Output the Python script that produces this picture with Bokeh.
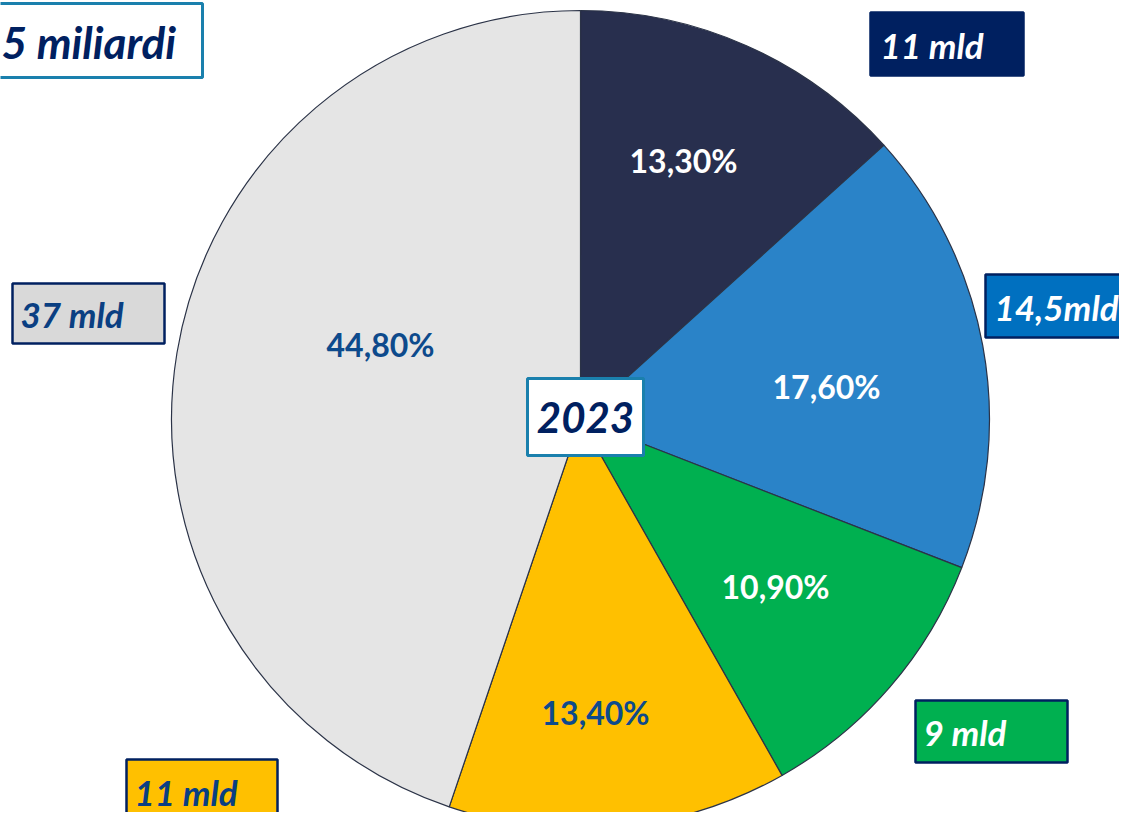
import math
from bokeh.plotting import figure
from bokeh.models import Range1d, ColumnDataSource
from bokeh.core.properties import value
from bokeh.embed import file_html
from bokeh.resources import INLINE

# ---- data ----
segments = ["A", "B", "C", "D", "E"]
shares = [13.3, 17.6, 10.9, 13.4, 44.8]            # percent, clockwise from top
share_labels = ["13,30%", "17,60%", "10,90%", "13,40%", "44,80%"]
amount_labels = ["11 mld", "14,5mld", "9 mld", "11 mld", "37 mld"]
total_label = "5 miliardi"
year_label = "2023"

# ---- styles / layout (image-pixel coordinates, y measured downward) ----
slice_colors = ["#282f4e", "#2a83c8", "#00b050", "#ffc000", "#e5e5e5"]
label_colors = ["white", "white", "white", "#0d4a8c", "#0d4a8c"]
label_pos = [(683, 160), (826, 386), (775, 586), (595, 712), (380, 344)]

box_fill = ["#002060", "#0070c0", "#00b050", "#ffc000", "#d9d9d9"]
box_line = ["#002060", "#002060", "#002060", "#002060", "#002060"]
box_text_color = ["white", "white", "white", "#0a3f82", "#0a3f82"]
box_rect = [(870, 12, 1023, 75), (985, 274, 1135, 337), (915, 700, 1067, 762),
            (126, 759, 277, 850), (12, 283, 164, 343)]
box_text_y = [44, 306, 731, 791, 313]
box_text_x = [880, 994, 923, 134, 20]

W, H = 1119, 812
CX, CY, R = 580, 419, 409

p = figure(width=W, height=H, output_backend="svg", toolbar_location=None,
           x_range=Range1d(0, W), y_range=Range1d(-H, 0),
           min_border=0, outline_line_color=None)
p.axis.visible = False
p.grid.visible = False
p.background_fill_color = "white"
p.border_fill_color = "white"

# wedges
total = sum(shares)
starts, ends = [], []
cum = 0.0
for s in shares:
    starts.append(math.pi / 2 - 2 * math.pi * cum / total)
    cum += s
    ends.append(math.pi / 2 - 2 * math.pi * cum / total)

src = ColumnDataSource(dict(seg=segments, start=starts, end=ends, color=slice_colors))
p.wedge(x=CX, y=-CY, radius=R, start_angle="start", end_angle="end",
        direction="clock", fill_color="color", line_color="#2b3347",
        line_width=1.2, source=src)

# percentage labels
p.text(x=[q[0] for q in label_pos], y=[-q[1] for q in label_pos], text=share_labels,
       text_color=label_colors, text_font=value("Lato"), text_font_style="bold",
       text_font_size="32px", text_align="center", text_baseline="middle")

# amount boxes
p.quad(left=[b[0] for b in box_rect], right=[b[2] for b in box_rect],
       top=[-b[1] for b in box_rect], bottom=[-b[3] for b in box_rect],
       fill_color=box_fill, line_color=box_line, line_width=2.5)
p.text(x=box_text_x, y=[-v for v in box_text_y],
       text=amount_labels, text_color=box_text_color, text_font=value("Lato"),
       text_font_style="bold italic", text_font_size="35px",
       text_align="left", text_baseline="middle")

# year box
p.quad(left=[527], right=[643], top=[-378], bottom=[-455],
       fill_color="white", line_color="#1a80ad", line_width=3)
p.text(x=[585], y=[-417], text=[year_label], text_color="#002060",
       text_font=value("Lato"), text_font_style="bold italic",
       text_font_size="42px", text_align="center", text_baseline="middle")

# total box (runs off the left edge, as in the original)
p.quad(left=[-200], right=[202], top=[-3], bottom=[-77],
       fill_color="white", line_color="#1a80ad", line_width=3)
p.text(x=[1], y=[-41], text=[total_label], text_color="#002060",
       text_font=value("Lato"), text_font_style="bold italic",
       text_font_size="44px", text_align="left", text_baseline="middle")

open("out.html", "w").write(file_html(p, INLINE))
